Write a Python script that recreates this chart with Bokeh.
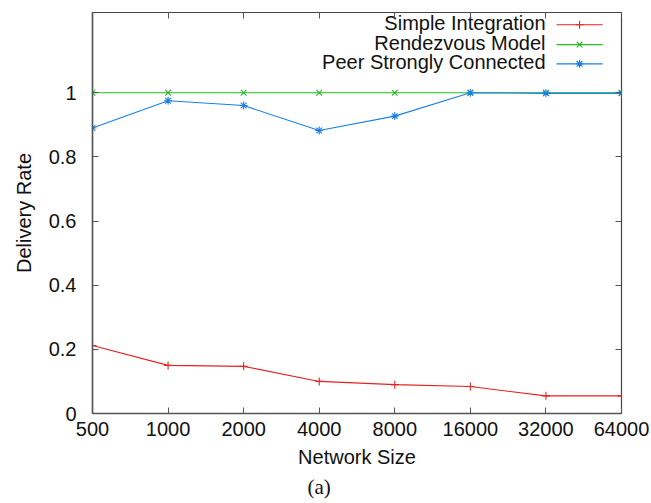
from bokeh.plotting import figure
from bokeh.models import FixedTicker, Range1d, LinearAxis, Title
from bokeh.core.properties import value
from bokeh.embed import file_html
from bokeh.resources import INLINE

sizes = ["500", "1000", "2000", "4000", "8000", "16000", "32000", "64000"]
simple_integration = [0.212, 0.150, 0.147, 0.100, 0.090, 0.084, 0.055, 0.055]
rendezvous_model = [1.0, 1.0, 1.0, 1.0, 1.0, 1.0, 1.0, 1.0]
peer_strongly = [0.890, 0.975, 0.960, 0.882, 0.927, 1.0, 0.998, 0.998]
y_ticks = [0, 0.2, 0.4, 0.6, 0.8, 1.0]

names = ["Simple Integration", "Rendezvous Model", "Peer Strongly Connected"]
series = [simple_integration, rendezvous_model, peer_strongly]
colors = ["#e82020", "#22bb22", "#1a7fe8"]
markers = ["cross", "x", "asterisk"]

FONT = "Liberation Sans"
FS = "20px"
xs = list(range(len(sizes)))

p = figure(width=651, height=503, output_backend="svg", toolbar_location=None,
           x_range=Range1d(0, len(sizes) - 1), y_range=Range1d(0, 1.25),
           min_border_left=92, min_border_right=30, min_border_top=12,
           min_border_bottom=90)
p.background_fill_color = "white"
p.border_fill_color = "white"
p.outline_line_color = "#444444"
p.outline_line_width = 1.2
p.grid.visible = False

for ys, c, m in zip(series, colors, markers):
    p.line(xs, ys, line_color=c, line_width=1.1)
    p.scatter(xs, ys, marker=m, size=8, line_color=c, fill_color=c, line_width=1.1)

# axes
p.xaxis.ticker = FixedTicker(ticks=xs)
p.xaxis.major_label_overrides = {i: s for i, s in enumerate(sizes)}
p.yaxis.ticker = FixedTicker(ticks=y_ticks)
p.yaxis.major_label_overrides = {0: "0", 1: "1"}
for ax in (p.xaxis[0], p.yaxis[0]):
    ax.axis_line_color = "#555555"
    ax.axis_line_width = 1.5
    ax.major_tick_line_color = "#555555"
    ax.major_tick_in = 6
    ax.major_tick_out = 0
    ax.minor_tick_line_color = None
    ax.major_label_text_font = FONT
    ax.major_label_text_font_size = FS
    ax.major_label_text_color = "#111111"
    ax.axis_label_text_font = FONT
    ax.axis_label_text_font_size = FS
    ax.axis_label_text_font_style = "normal"
    ax.axis_label_text_color = "#111111"
p.xaxis.axis_label = "Network Size"
p.xaxis.major_label_standoff = 8
p.xaxis.axis_label_standoff = 7
p.yaxis.axis_label = "Delivery Rate"
p.yaxis.major_label_standoff = 16
p.yaxis.axis_label_standoff = 11

top = LinearAxis(ticker=FixedTicker(ticks=xs), major_label_text_font_size="0px",
                 axis_line_color=None, major_tick_line_color="#555555",
                 major_tick_in=6, major_tick_out=0, minor_tick_line_color=None)
p.add_layout(top, "above")
right = LinearAxis(ticker=FixedTicker(ticks=y_ticks), major_label_text_font_size="0px",
                   axis_line_color=None, major_tick_line_color="#555555",
                   major_tick_in=6, major_tick_out=0, minor_tick_line_color=None)
p.add_layout(right, "right")

# gnuplot-style key: label on the left, sample on the right
key_text_y = [1.218, 1.156, 1.097]
key_y = [1.212, 1.150, 1.090]
for name, c, m, ty, ky in zip(names, colors, markers, key_text_y, key_y):
    p.text(x=[5.995], y=[ty], text=[name], text_align="right", text_baseline="middle",
           text_font=value(FONT), text_font_size=FS, text_color="#111111")
    p.segment(x0=[6.14], y0=[ky], x1=[6.75], y1=[ky], line_color=c, line_width=1.1)
    p.scatter([6.445], [ky], marker=m, size=8, line_color=c, fill_color=c, line_width=1.1)

cap = Title(text="(a)", align="left", offset=215, text_font="Liberation Serif",
            text_font_size="21px", text_font_style="normal", text_color="#111111",
            standoff=4)
p.add_layout(cap, "below")

open("out.html", "w").write(file_html(p, INLINE))
